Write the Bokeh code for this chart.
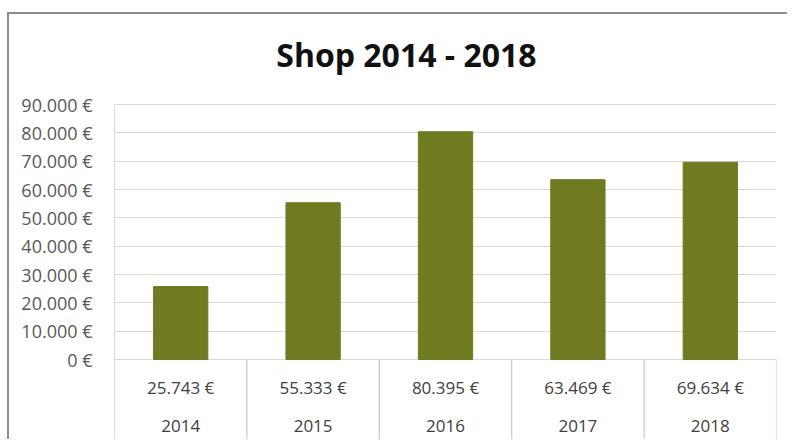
from bokeh.plotting import figure
from bokeh.models import FactorRange, Range1d, FixedTicker, ColumnDataSource
from bokeh.core.properties import value
from bokeh.embed import file_html
from bokeh.resources import INLINE

title_text = "Shop 2014 - 2018"
years = ["2014", "2015", "2016", "2017", "2018"]
sales = [25743, 55333, 80395, 63469, 69634]
y_ticks = [0, 10000, 20000, 30000, 40000, 50000, 60000, 70000, 80000, 90000]


def euro(v):
    return f"{v:,}".replace(",", ".") + " \u20ac"


W, H = 780, 427
LEFT, RIGHT = 105, 13
TOP90, ZERO = 90, 345        # canvas y of the 90.000 line and of the 0 line
PX = 90000 / (ZERO - TOP90)  # data units per pixel
Y_END = 90000 + TOP90 * PX
Y_START = -(H - ZERO) * PX

p = figure(width=W, height=H, output_backend="svg", toolbar_location=None,
           x_range=FactorRange(factors=years, range_padding=0, factor_padding=0),
           y_range=Range1d(Y_START, Y_END),
           min_border_left=LEFT, min_border_right=RIGHT, min_border_top=0, min_border_bottom=0)
p.styles = {"border-left": "2px solid #8c8c8c", "border-top": "2px solid #8c8c8c",
            "position": "relative", "left": "7px", "top": "12px"}
p.xaxis.visible = False
p.outline_line_color = None
p.background_fill_color = "white"
p.border_fill_color = "white"

ya = p.yaxis[0]
ya.ticker = FixedTicker(ticks=y_ticks)
ya.major_label_overrides = {t: euro(t) for t in y_ticks}
ya.axis_line_color = None
ya.major_tick_line_color = None
ya.minor_tick_line_color = None
ya.major_label_standoff = 16
ya.major_label_text_font = "Open Sans"
ya.major_label_text_font_size = "18px"
ya.major_label_text_color = "#595959"

p.xgrid.visible = False
p.ygrid.ticker = FixedTicker(ticks=y_ticks)
p.ygrid.grid_line_color = "#d9d9d9"
p.ygrid.grid_line_width = 1

src = ColumnDataSource(dict(year=years, sales=sales, label=[euro(v) for v in sales]))
p.vbar(x="year", top="sales", bottom=0, width=0.41, source=src,
       fill_color="#707b21", line_color="#707b21")

# left axis line and table dividers
n = len(years)
p.segment(x0=[0], y0=[Y_START], x1=[0], y1=[y_ticks[-1]], line_color="#bfbfbf", line_width=1.2)
p.segment(x0=list(range(1, n + 1)), y0=[Y_START] * n, x1=list(range(1, n + 1)), y1=[0] * n,
          line_color="#c8c8c8", line_width=1.2)

# data table texts
p.text(x="year", y=-27.5 * PX, text="label", source=src, text_align="center", text_baseline="middle",
       text_font=value("Open Sans"), text_font_size="17px", text_color="#404040")
p.text(x="year", y=-66.3 * PX, text="year", source=src, text_align="center", text_baseline="middle",
       text_font=value("Open Sans"), text_font_size="17px", text_color="#404040")

# title
p.text(x=[2.205], y=[Y_END - 40 * PX], text=[title_text], text_align="center", text_baseline="middle",
       text_font=value("Open Sans"), text_font_size="32px", text_font_style="bold", text_color="#111111")

open("out.html", "w").write(file_html(p, INLINE))
